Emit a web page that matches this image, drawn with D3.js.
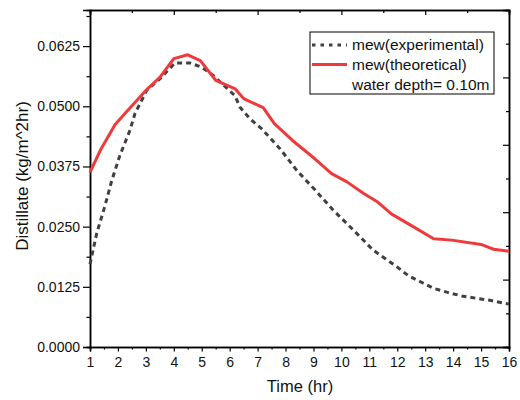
<!DOCTYPE html>
<head>
    <title>Distillate</title>
    <style>
        body{ margin: 0; background: white; }
        svg{ display: block; font-family: "Liberation Sans", Arial, sans-serif; }
    </style>
    <script src="https://d3js.org/d3.v7.min.js"></script>
</head>
<body>
    <svg width="520" height="400"></svg>
    <script>
        // Daten
        var expTime  = [1.0, 1.24, 1.54, 1.78, 2.07, 2.43, 2.61, 3.03, 3.5, 4.04, 4.58, 5.0, 5.41, 6.19, 6.37, 6.73, 7.15, 7.8, 8.4, 9.06, 9.71, 10.43, 11.14, 11.56, 11.98, 12.4, 12.88, 13.29, 13.83, 14.31, 14.85, 15.32, 16.0];
        var expValue = [0.0172, 0.0236, 0.0294, 0.0346, 0.0398, 0.0450, 0.0485, 0.0533, 0.0557, 0.0590, 0.0590, 0.0581, 0.0564, 0.0522, 0.0498, 0.0474, 0.0453, 0.0412, 0.0367, 0.0326, 0.0284, 0.0243, 0.0201, 0.0184, 0.0167, 0.0148, 0.0134, 0.0122, 0.0113, 0.0106, 0.0101, 0.0097, 0.0089];
        var theoTime  = [1.0, 1.4, 1.9, 2.3, 3.0, 3.5, 4.0, 4.5, 4.95, 5.5, 6.2, 6.5, 7.2, 7.6, 8.25, 9.05, 9.65, 10.2, 10.8, 11.3, 11.8, 12.6, 13.3, 13.95, 15.0, 15.45, 16.0];
        var theoValue = [0.0363, 0.0412, 0.0462, 0.0488, 0.0533, 0.0560, 0.0599, 0.0607, 0.0595, 0.0554, 0.0536, 0.0516, 0.0497, 0.0464, 0.0429, 0.0391, 0.0360, 0.0343, 0.0319, 0.0301, 0.0276, 0.0249, 0.0225, 0.0222, 0.0213, 0.0203, 0.0199];
        var xTicks = d3.range(1, 17);
        var yTicks = [0, 0.0125, 0.025, 0.0375, 0.05, 0.0625];
        var legendNames = ["mew(experimental)", "mew(theoretical)", "water depth= 0.10m"];

        var svg = d3.select("svg");
        // Plotrand (nicht "top" nennen, das ist window.top)
        var pL = 90, pR = 509, pT = 10, pB = 347;

        var x = d3.scaleLinear().domain([1, 16]).range([pL, pR]);
        var y = d3.scaleLinear().domain([0, 0.07]).range([pB, pT]);

        // Achsen unten und links
        svg.append("g").attr("transform", "translate(0," + pB + ")")
            .call(d3.axisBottom(x).tickValues(d3.range(1.5, 16, 1)).tickFormat("").tickSize(2.5));
        svg.append("g").attr("transform", "translate(0," + pB + ")")
            .call(d3.axisBottom(x).tickValues(xTicks).tickFormat(d3.format("d")).tickSize(4.5).tickPadding(6));
        svg.append("g").attr("transform", "translate(" + pL + ",0)")
            .call(d3.axisLeft(y).tickValues(yTicks.map(function(d){ return d + 0.00625; })).tickFormat("").tickSize(3.5));
        svg.append("g").attr("transform", "translate(" + pL + ",0)")
            .call(d3.axisLeft(y).tickValues(yTicks).tickFormat(d3.format(".4f")).tickSize(7).tickPadding(3));

        // Achsen oben und rechts (10 Teile, Ticks nach innen)
        var topScale = d3.scaleLinear().domain([0, 10]).range([pL, pR]);
        var rightScale = d3.scaleLinear().domain([0, 10]).range([pB, pT]);
        svg.append("g").attr("transform", "translate(0," + pT + ")")
            .call(d3.axisTop(topScale).tickValues([0, 2, 4, 6, 8, 10]).tickFormat("").tickSize(-5));
        svg.append("g").attr("transform", "translate(0," + pT + ")")
            .call(d3.axisTop(topScale).tickValues([1, 3, 5, 7, 9]).tickFormat("").tickSize(-3));
        svg.append("g").attr("transform", "translate(" + pR + ",0)")
            .call(d3.axisRight(rightScale).tickValues([0, 2, 4, 6, 8, 10]).tickFormat("").tickSize(-6));
        svg.append("g").attr("transform", "translate(" + pR + ",0)")
            .call(d3.axisRight(rightScale).tickValues([1, 3, 5, 7, 9]).tickFormat("").tickSize(-3));

        svg.selectAll(".domain").attr("stroke", "black").attr("stroke-width", 1.5);
        svg.selectAll(".tick line").attr("stroke", "black").attr("stroke-width", 1.2);
        svg.selectAll(".tick text").attr("font-size", "14px").attr("fill", "#111")
            .attr("font-family", "'Liberation Sans', Arial, sans-serif");

        // Achsentitel
        svg.append("text")
            .attr("x", 300).attr("y", 392)
            .attr("text-anchor", "middle").style("font-size", "16.5px").attr("fill", "#111")
            .text("Time (hr)");
        svg.append("text")
            .attr("transform", "translate(27.5,176) rotate(-90)")
            .attr("text-anchor", "middle").style("font-size", "17px").attr("fill", "#111")
            .text("Distillate (kg/m^2hr)");

        // Linien
        var line = d3.line().x(function(d){ return x(d[0]); }).y(function(d){ return y(d[1]); });
        svg.append("path")
            .datum(d3.zip(expTime, expValue))
            .attr("fill", "none").attr("stroke", "#404040").attr("stroke-width", 3)
            .attr("stroke-dasharray", "5,4")
            .attr("d", line);
        svg.append("path")
            .datum(d3.zip(theoTime, theoValue))
            .attr("fill", "none").attr("stroke", "#ee3a3a").attr("stroke-width", 3)
            .attr("stroke-linejoin", "round")
            .attr("d", line);

        // Legende
        var lg = svg.append("g");
        lg.append("rect").attr("x", 310).attr("y", 32).attr("width", 184).attr("height", 62)
            .attr("fill", "white").attr("stroke", "black").attr("stroke-width", 1);
        var rows = [45, 64.5, 84.5];
        lg.append("line").attr("x1", 312).attr("x2", 347).attr("y1", rows[0]).attr("y2", rows[0])
            .attr("stroke", "#404040").attr("stroke-width", 3).attr("stroke-dasharray", "3.5,5");
        lg.append("line").attr("x1", 312).attr("x2", 347).attr("y1", rows[1]).attr("y2", rows[1])
            .attr("stroke", "#ee3a3a").attr("stroke-width", 3);
        for(let i = 0; i < legendNames.length; i++){
            lg.append("text")
                .attr("x", 352).attr("y", rows[i]).attr("dy", "0.35em")
                .style("font-size", "15.5px").attr("fill", "#111")
                .text(legendNames[i]);
        }
    </script>
</body>
</html>
